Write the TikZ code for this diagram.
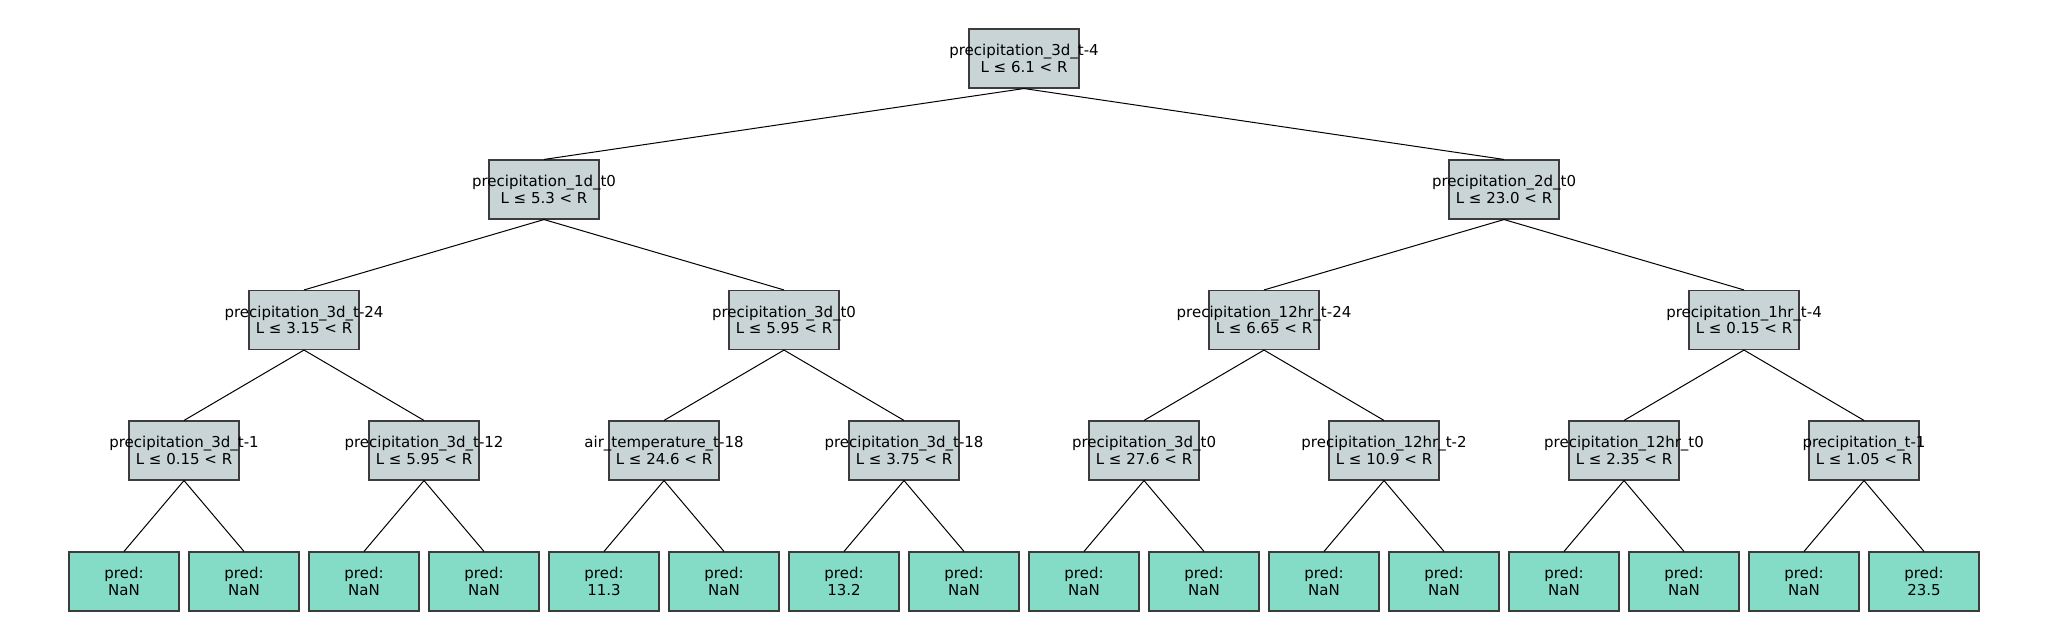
\documentclass[tikz,border=0pt]{standalone}
\usepackage{fontspec}
\setmainfont{DejaVu Sans}
\usetikzlibrary{positioning}
\definecolor{splitgray}{RGB}{200,212,213}
\definecolor{leafgreen}{RGB}{133,220,198}
\definecolor{boxline}{RGB}{60,60,60}
\tikzset{box/.style={draw=boxline, line width=0.55pt, minimum width=55pt, minimum height=29.5pt, inner sep=0pt},
every label/.style={align=center, inner sep=0pt, font=\fontsize{7.5}{8.3}\selectfont},
split/.style={box, fill=splitgray},
leaf/.style={box, fill=leafgreen},
edge/.style={line width=0.5pt}}

\begin{document}
\begin{tikzpicture}[x=0.5pt,y=-0.5pt]
    \useasboundingbox (0,0) rectangle (2048,640);
    % root
    \node[split, label=center:{precipitation\_3d\_t-4\\L ≤ 6.1 < R}] (r) at (1024,58.5) {};
    % depth 1
    \foreach \f/\t[count=\n] in {precipitation\_1d\_t0/5.3, precipitation\_2d\_t0/23.0}{
        \node[split, label=center:{\f\\L ≤ \t\ < R}] (a\n) at (-416+960*\n,189.5) {};
        \draw[edge] (r.south) -- (a\n.north);
    }
    % depth 2
    \foreach \f/\t[count=\n] in {precipitation\_3d\_t-24/3.15, precipitation\_3d\_t0/5.95,
        precipitation\_12hr\_t-24/6.65, precipitation\_1hr\_t-4/0.15}{
        \pgfmathtruncatemacro\p{(\n+1)/2}
        \node[split, label=center:{\f\\L ≤ \t\ < R}] (b\n) at (-176+480*\n,320) {};
        \draw[edge] (a\p.south) -- (b\n.north);
    }
    % depth 3
    \foreach \f/\t[count=\n] in {precipitation\_3d\_t-1/0.15, precipitation\_3d\_t-12/5.95,
        air\_temperature\_t-18/24.6, precipitation\_3d\_t-18/3.75,
        precipitation\_3d\_t0/27.6, precipitation\_12hr\_t-2/10.9,
        precipitation\_12hr\_t0/2.35, precipitation\_t-1/1.05}{
        \pgfmathtruncatemacro\p{(\n+1)/2}
        \node[split, label=center:{\f\\L ≤ \t\ < R}] (c\n) at (-56+240*\n,450.5) {};
        \draw[edge] (b\p.south) -- (c\n.north);
    }
    % leaves
    \foreach \v[count=\n] in {NaN,NaN,NaN,NaN,11.3,NaN,13.2,NaN,NaN,NaN,NaN,NaN,NaN,NaN,NaN,23.5}{
        \pgfmathtruncatemacro\p{(\n+1)/2}
        \node[leaf, label=center:{pred:\\\v}] (l\n) at (4+120*\n,581.5) {};
        \draw[edge] (c\p.south) -- (l\n.north);
    }
\end{tikzpicture}
\end{document}
